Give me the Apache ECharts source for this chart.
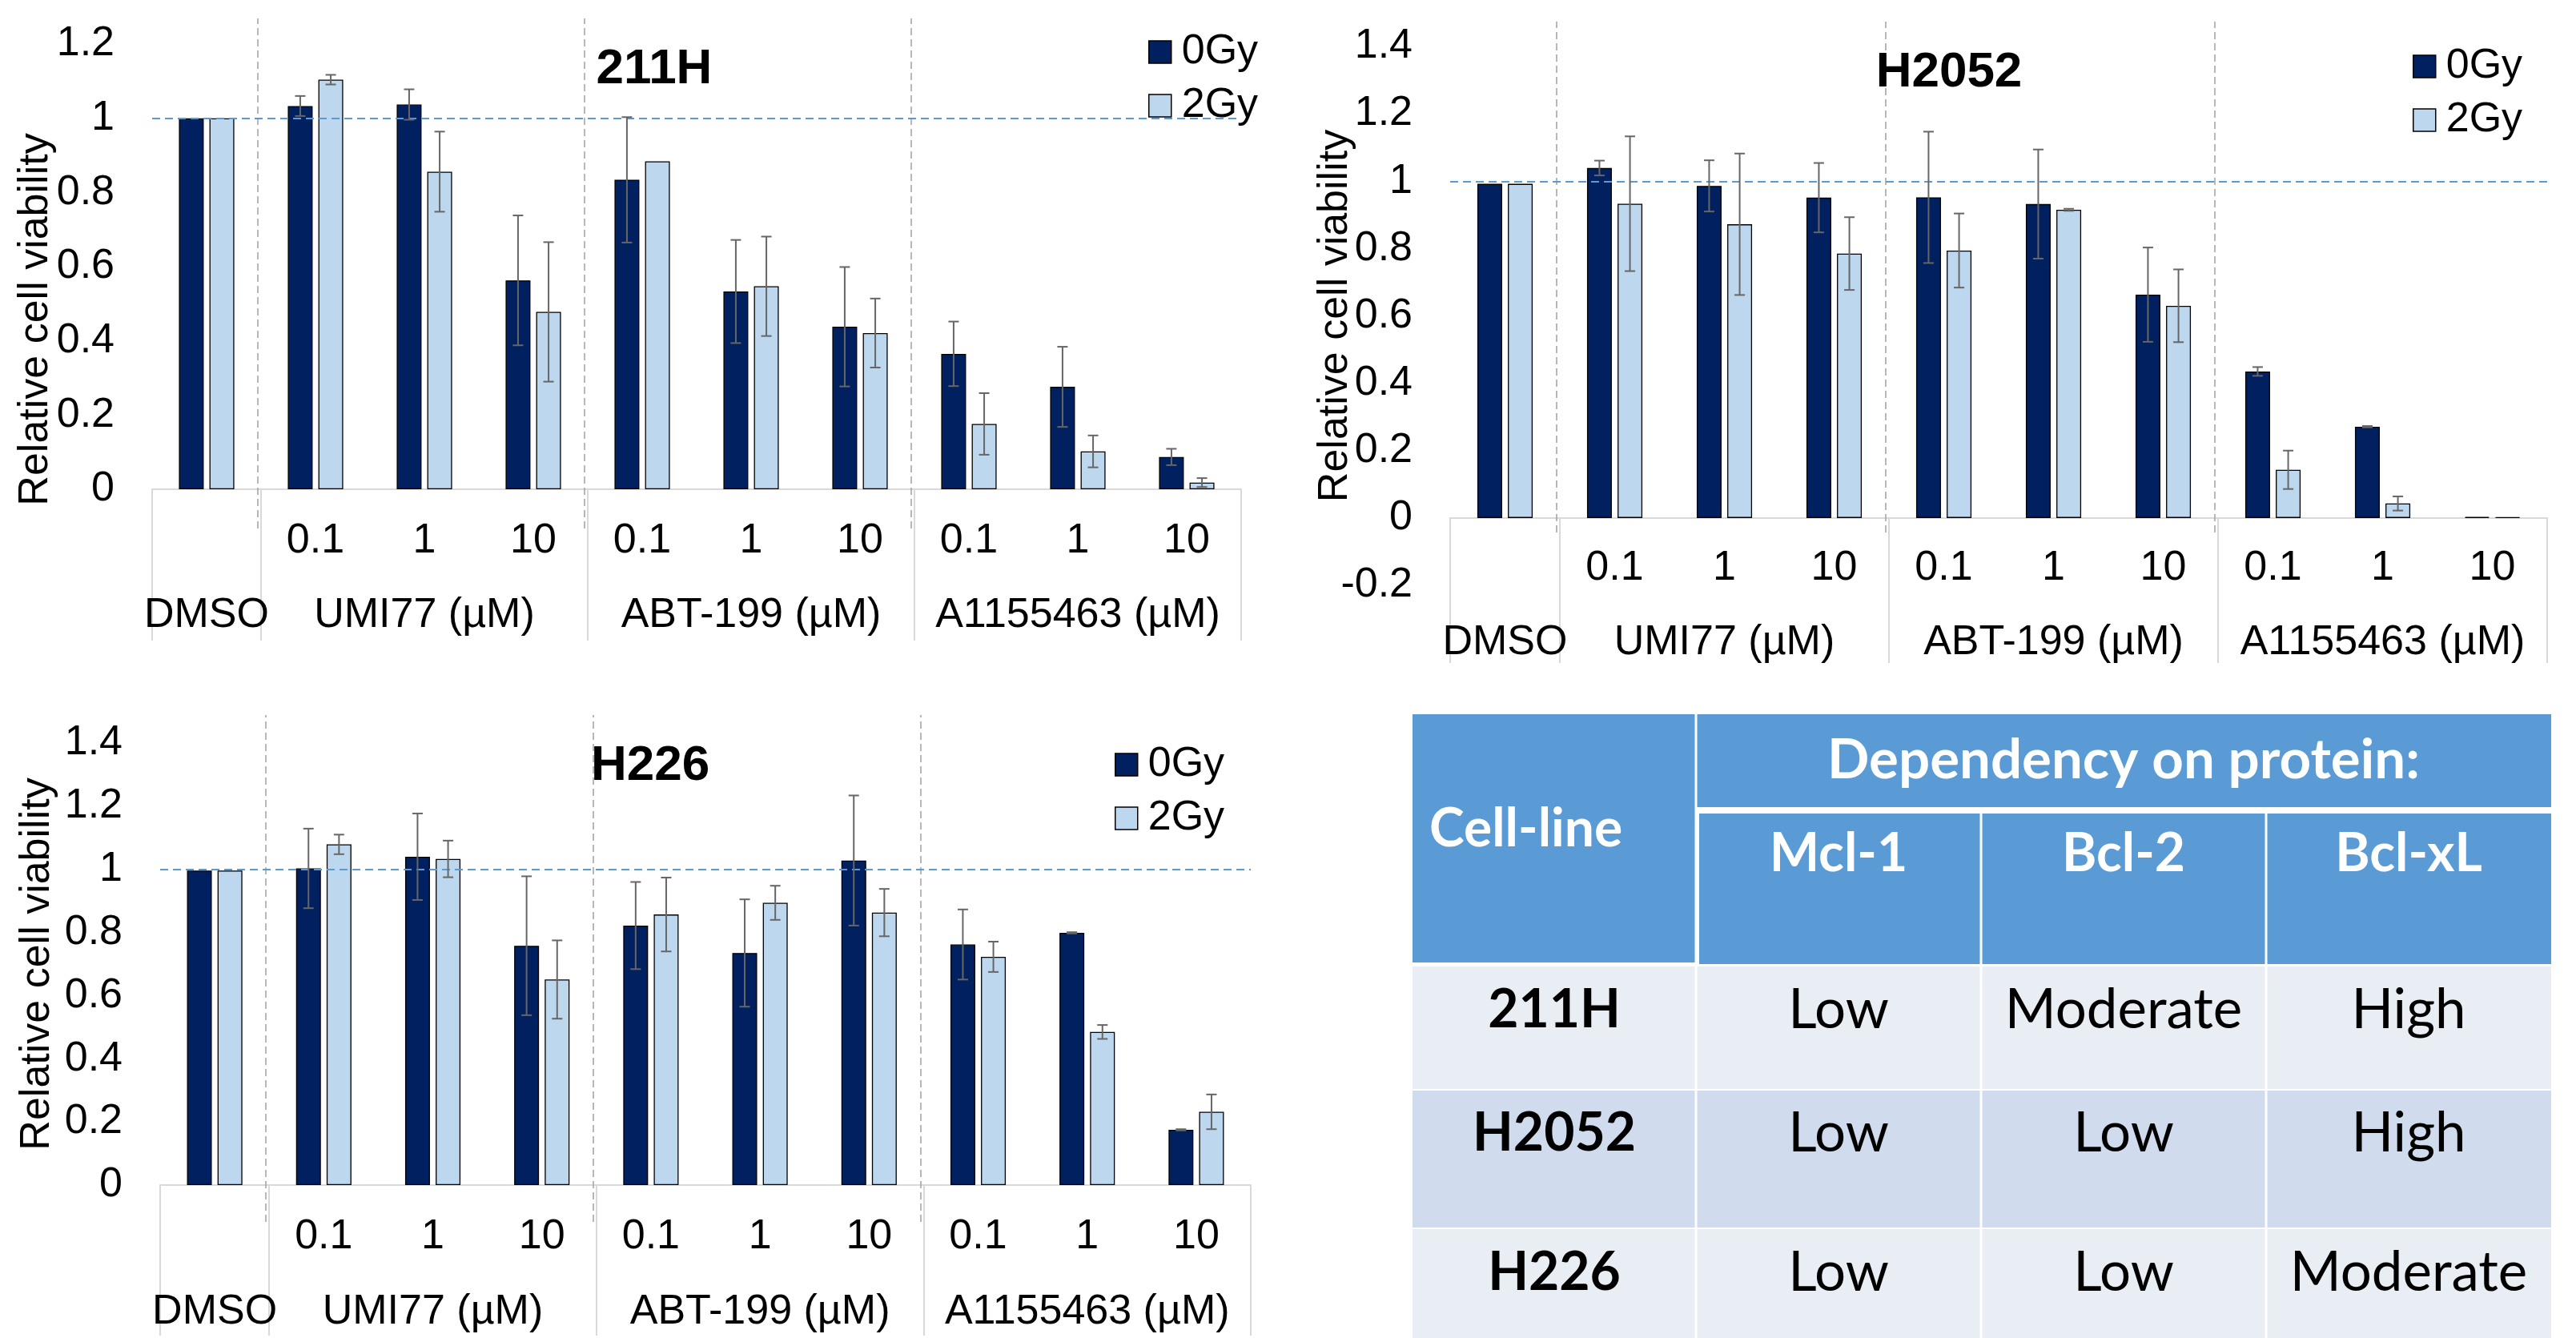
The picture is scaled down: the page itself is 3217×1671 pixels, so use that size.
<!DOCTYPE html>
<html><head><meta charset="utf-8">
<script src="https://cdn.jsdelivr.net/npm/echarts@6/dist/echarts.min.js"></script>
<style>html,body{margin:0;padding:0;background:#fff;}#c{width:3217px;height:1671px;}</style>
</head><body><div id="c"></div>
<script>
// ---------- DATA ----------
const categories = ['DMSO','0.1','1','10','0.1','1','10','0.1','1','10'];
const groupNames = ['DMSO','UMI77 (µM)','ABT-199 (µM)','A1155463 (µM)'];
const groupSizes = [1,3,3,3];
const seriesNames = ['0Gy','2Gy'];
const panelTitles = ['211H','H2052','H226'];

const v211H_0Gy = [1.000,1.033,1.037,0.563,0.834,0.533,0.438,0.365,0.276,0.087];
const v211H_2Gy = [1.000,1.104,0.856,0.478,0.884,0.547,0.421,0.176,0.102,0.018];
const e211H_0Gy = [0,0.027,0.041,0.175,0.169,0.139,0.161,0.087,0.108,0.022];
const e211H_2Gy = [0,0.013,0.108,0.188,0,0.134,0.093,0.083,0.043,0.012];

const vH2052_0Gy = [0.992,1.039,0.986,0.951,0.952,0.932,0.663,0.435,0.271,0.003];
const vH2052_2Gy = [0.992,0.933,0.872,0.785,0.794,0.915,0.630,0.143,0.043,0.002];
const eH2052_0Gy = [0,0.022,0.076,0.103,0.195,0.162,0.140,0.013,0.002,0];
const eH2052_2Gy = [0,0.200,0.210,0.108,0.110,0.003,0.108,0.057,0.021,0];

const vH226_0Gy = [0.996,1.003,1.040,0.758,0.822,0.735,1.028,0.762,0.799,0.175];
const vH226_2Gy = [0.996,1.079,1.033,0.651,0.857,0.894,0.863,0.723,0.485,0.232];
const eH226_0Gy = [0,0.126,0.137,0.220,0.138,0.170,0.206,0.111,0.002,0.002];
const eH226_2Gy = [0,0.031,0.058,0.124,0.117,0.054,0.075,0.048,0.022,0.055];

const yTicks211H = [0,0.2,0.4,0.6,0.8,1,1.2];
const yTicksH2052 = [-0.2,0,0.2,0.4,0.6,0.8,1,1.2,1.4];
const yTicksH226 = [0,0.2,0.4,0.6,0.8,1,1.2,1.4];

const tableHeader = 'Cell-line';
const tableSuper = 'Dependency on protein:';
const proteins = ['Mcl-1','Bcl-2','Bcl-xL'];
const cellLines = ['211H','H2052','H226'];
const dependency = [['Low','Moderate','High'],['Low','Low','High'],['Low','Low','Moderate']];

// ---------- STYLE / LAYOUT ----------
const DARK = '#002060', LIGHT = '#BDD7EE', ERR = '#666666', AXG = '#D9D9D9';
const FONT = "'Liberation Sans', Arial, sans-serif";
const TFONT = "Lato, 'Open Sans', sans-serif";
const BAR_W = 31, BAR_GAP = 0.23;
const HALF_OFF = (BAR_W + BAR_W*BAR_GAP)/2;

const panels = [
  {vals:[v211H_0Gy,v211H_2Gy], errs:[e211H_0Gy,e211H_2Gy], ticks:yTicks211H,
   grid:{left:190,top:55,width:1360,height:556}, sep:{left:186,top:23,width:1360,height:637},
   tickLen:189, lblMargin:39, grpMargin:132,
   title:{x:812,y:51}, legend:{left:1429,top:34}, nameGap:119, namePad:132},
  {vals:[vH2052_0Gy,vH2052_2Gy], errs:[eH2052_0Gy,eH2052_2Gy], ticks:yTicksH2052,
   grid:{left:1811,top:58,width:1370,height:673}, sep:{left:1807,top:27,width:1370,height:638},
   tickLen:181, lblMargin:37, grpMargin:46,
   title:{x:2429,y:55}, legend:{left:3008,top:52}, nameGap:117, namePad:0},
  {vals:[vH226_0Gy,vH226_2Gy], errs:[eH226_0Gy,eH226_2Gy], ticks:yTicksH226,
   grid:{left:200,top:928,width:1362,height:552}, sep:{left:196,top:893,width:1362,height:633},
   tickLen:188, lblMargin:39, grpMargin:133,
   title:{x:807,y:921}, legend:{left:1387,top:924}, nameGap:127, namePad:0}
];

// group helpers
const groupStarts = []; { let s=0; groupSizes.forEach(g=>{groupStarts.push(s); s+=g;}); }
const boundaryIdx = new Set(groupStarts);
const groupLabelAt = {};
groupStarts.forEach((s,i)=>{ groupLabelAt[s + (groupSizes[i]-1)/2] = groupNames[i]; });
const innerBoundaries = groupStarts.slice(1);

const grids=[], xAxes=[], yAxes=[], series=[], titles=[], legends=[];
panels.forEach((p,i)=>{
  grids[i] = Object.assign({outerBoundsMode:'none', containLabel:false}, p.grid);
  grids[3+i] = Object.assign({outerBoundsMode:'none', containLabel:false}, p.sep);
  const yMin = p.ticks[0], yMax = p.ticks[p.ticks.length-1];
  // offset of the zero line above the grid bottom (axis sits at value 0)
  const zeroOffset = -p.grid.height * (0 - yMin) / (yMax - yMin);
  // primary x axis (concentration labels + group boundary ticks)
  xAxes[2*i] = {type:'category', gridIndex:i, data:categories, position:'bottom', offset:zeroOffset,
    axisLine:{show:true, onZero:false, lineStyle:{color:AXG, width:2}},
    axisTick:{show:true, length:p.tickLen, interval:(idx)=>boundaryIdx.has(idx), lineStyle:{color:AXG,width:2}},
    axisLabel:{interval:0, margin:p.lblMargin, fontSize:52, fontFamily:FONT, color:'#000',
      formatter:(v,idx)=> idx===0 ? '' : v},
    splitLine:{show:false}};
  // secondary x axis (group names)
  xAxes[2*i+1] = {type:'category', gridIndex:i, data:categories, position:'bottom',
    axisLine:{show:false, onZero:false}, axisTick:{show:false},
    axisLabel:{interval:0, margin:p.grpMargin, fontSize:52, fontFamily:FONT, color:'#000',
      formatter:(v,idx)=> groupLabelAt[idx] || ''},
    splitLine:{show:false}};
  yAxes[i] = {type:'value', gridIndex:i, min:yMin, max:yMax,
    interval:+(p.ticks[1]-p.ticks[0]).toFixed(3),
    axisLine:{show:false}, axisTick:{show:false}, splitLine:{show:false},
    axisLabel:{margin:47, fontSize:52, fontFamily:FONT, color:'#000'},
    name:'Relative cell viability', nameLocation:'middle', nameGap:p.nameGap, nameMoveOverlap:false,
    nameTextStyle:{fontSize:52, fontFamily:FONT, color:'#000', lineHeight:52, padding:[0,p.namePad,0,0]}};
  // separator axes
  xAxes[6+i] = {type:'value', gridIndex:3+i, min:0, max:categories.length, show:false};
  yAxes[3+i] = {type:'value', gridIndex:3+i, min:0, max:1, show:false};

  seriesNames.forEach((sn,k)=>{
    series.push({type:'bar', name:sn, xAxisIndex:2*i, yAxisIndex:i, data:p.vals[k],
      barWidth:BAR_W, barGap:(BAR_GAP*100)+'%', z:2,
      itemStyle:{color:k===0?DARK:LIGHT, borderColor:'#000', borderWidth:1.3},
      emphasis:{disabled:true},
      markLine: k===0 ? {silent:true, symbol:'none', label:{show:false},
        lineStyle:{type:[10,6], color:'#5B9BD5', width:2}, data:[{yAxis:1}]} : undefined});
    const sign = k===0 ? -1 : 1;
    series.push({type:'custom', name:sn+' err', xAxisIndex:2*i, yAxisIndex:i, z:5, silent:true,
      data:p.vals[k].map((v,ci)=>[ci, v, p.errs[k][ci]]),
      encode:{x:0,y:1},
      renderItem:(params, api)=>{
        const ci=api.value(0), v=api.value(1), e=api.value(2);
        if(!e) return null;
        const t=api.coord([ci, v+e]), b=api.coord([ci, v-e]);
        const x=t[0]+sign*HALF_OFF, cw=6.5;
        const st={stroke:ERR, lineWidth:2};
        return {type:'group', children:[
          {type:'line', shape:{x1:x,y1:t[1],x2:x,y2:b[1]}, style:st},
          {type:'line', shape:{x1:x-cw,y1:t[1],x2:x+cw,y2:t[1]}, style:st},
          {type:'line', shape:{x1:x-cw,y1:b[1],x2:x+cw,y2:b[1]}, style:st}]};
      }});
  });
  series.push({type:'lines', coordinateSystem:'cartesian2d', xAxisIndex:6+i, yAxisIndex:3+i, silent:true,
    data: innerBoundaries.map(b=>({coords:[[b,0],[b,1]]})),
    lineStyle:{color:'#A6A6A6', width:1.6, type:[9,5], opacity:1}, z:1});

  titles.push({text:panelTitles[i], left:p.title.x, top:p.title.y, textAlign:'center',
    textStyle:{fontSize:62, fontWeight:'bold', fontFamily:FONT, color:'#000', lineHeight:62}});
  legends.push({orient:'vertical', left:p.legend.left, top:p.legend.top, data:seriesNames,
    itemWidth:28, itemHeight:28, itemGap:15, selectedMode:false, icon:'rect',
    itemStyle:{borderColor:'#000', borderWidth:1.5},
    textStyle:{fontSize:52, fontFamily:FONT, color:'#000', lineHeight:52, padding:[0,0,0,8]}});
});

// ---------- TABLE (graphic) ----------
const TB = {x:[1764,2118,2474,2830,3186], h1:[892,1008], h2:[1016,1204],
  rows:[[1207,1360],[1362,1533],[1535,1671]], hdr:'#5B9BD5', rowFill:['#E9EDF4','#D0DBEE','#E9EDF4']};
const g=[];
const rect=(x1,y1,x2,y2,fill)=>({type:'rect', silent:true, shape:{x:x1,y:y1,width:x2-x1,height:y2-y1}, style:{fill}});
const txt=(s,x,y,opt)=>Object.assign({type:'text', silent:true, style:Object.assign({text:s, x, y, fill:'#000',
  fontSize:69, fontFamily:TFONT, align:'center', verticalAlign:'middle'}, opt||{})});
g.push(rect(TB.x[0], TB.h1[0], TB.x[1]-1.5, TB.h2[1]-2, TB.hdr));
g.push(rect(TB.x[1]+1.5, TB.h1[0], TB.x[4], TB.h1[1], TB.hdr));
proteins.forEach((pn,j)=>{
  g.push(rect(TB.x[j+1]+(j===0?4:1.5), TB.h2[0], TB.x[j+2]-(j<2?1.5:0), TB.h2[1], TB.hdr));
  g.push(txt(pn, (TB.x[j+1]+TB.x[j+2])/2, 1067, {fill:'#fff', fontWeight:'bold', fontSize:66}));
});
g.push(txt(tableSuper, (TB.x[1]+TB.x[4])/2, 950, {fill:'#fff', fontWeight:'bold', fontSize:69}));
g.push(txt(tableHeader, 1785, 1036, {fill:'#fff', fontWeight:'bold', fontSize:66, align:'left'}));
const rowTextY=[1262,1416,1590];
cellLines.forEach((cl,r)=>{
  for(let c=0;c<4;c++){
    g.push(rect(TB.x[c]+(c>0?1.5:0), TB.rows[r][0], TB.x[c+1]-(c<3?1.5:0), TB.rows[r][1], TB.rowFill[r]));
  }
  g.push(txt(cl, (TB.x[0]+TB.x[1])/2, rowTextY[r], {fontWeight:'bold', fontSize:66}));
  dependency[r].forEach((d,c)=>g.push(txt(d, (TB.x[c+1]+TB.x[c+2])/2, rowTextY[r])));
});

const chart = echarts.init(document.getElementById('c'), null, {renderer:'canvas'});
chart.setOption({
  animation:false, backgroundColor:'#fff',
  title:titles, legend:legends, grid:grids, xAxis:xAxes, yAxis:yAxes, series:series,
  graphic:{elements:g}
});
</script></body></html>
